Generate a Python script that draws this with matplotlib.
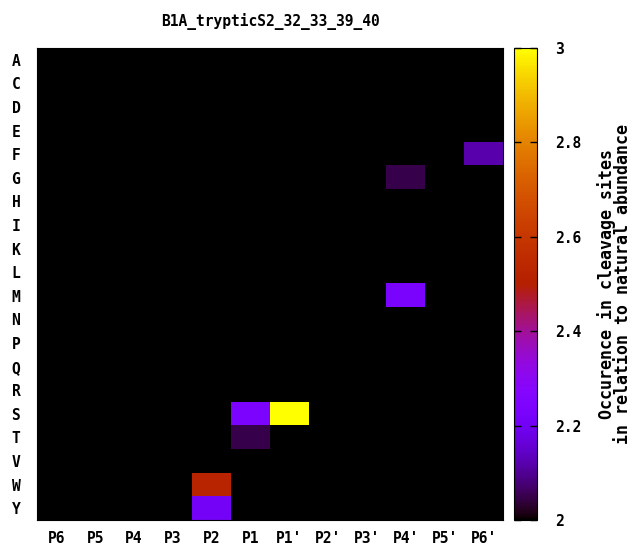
import numpy as np
import matplotlib.pyplot as plt

plt.rcParams['font.family'] = 'DejaVu Sans Mono'
plt.rcParams['font.weight'] = 'bold'

positions = ['P6', 'P5', 'P4', 'P3', 'P2', 'P1',
             "P1'", "P2'", "P3'", "P4'", "P5'", "P6'"]
residues = ['A', 'C', 'D', 'E', 'F', 'G', 'H', 'I', 'K', 'L',
            'M', 'N', 'P', 'Q', 'R', 'S', 'T', 'V', 'W', 'Y']

# cells above the baseline (residue, position, value); everything else sits at 2
hit_res = ['F', 'G', 'M', 'S', 'S', 'T', 'W', 'Y']
hit_pos = ["P6'", "P4'", "P4'", 'P1', "P1'", 'P1', 'P2', 'P2']
hit_val = [2.12, 2.05, 2.23, 2.24, 3.0, 2.05, 2.52, 2.21]
baseline = 2.0

Z = np.full((len(residues), len(positions)), baseline)
for r, p, v in zip(hit_res, hit_pos, hit_val):
    Z[residues.index(r), positions.index(p)] = v

fig = plt.figure(figsize=(6.33, 5.47), dpi=100)
ax = fig.add_axes([37/633, 27/547, 466/633, 472/547])
cax = fig.add_axes([514/633, 27/547, 23/633, 472/547])

im = ax.imshow(Z, cmap='gnuplot', vmin=2, vmax=3, aspect='auto',
               interpolation='nearest')
ax.set_xticks(np.arange(len(positions)))
ax.set_xticklabels(positions, fontsize=10.5, fontweight='bold')
ax.set_yticks(np.arange(len(residues)))
ax.set_yticklabels(residues, fontsize=10.5, fontweight='bold')
ax.tick_params(axis='x', length=0, pad=8)
ax.tick_params(axis='y', length=0, pad=12)
ax.set_title('B1A_trypticS2_32_33_39_40', fontsize=10.5, fontweight='bold',
             pad=16)

cb = fig.colorbar(im, cax=cax)
cb.set_ticks([2, 2.2, 2.4, 2.6, 2.8, 3])
cax.set_yticklabels(['2', '2.2', '2.4', '2.6', '2.8', '3'],
                    fontsize=10.5, fontweight='bold')
cax.yaxis.set_ticks_position('both')
cax.tick_params(axis='y', direction='in', length=5, width=1, color='black',
                pad=13, left=True, right=True)
cb.outline.set_edgecolor('black')
cb.set_label('Occurence in cleavage sites\nin relation to natural abundance',
             fontsize=12, fontweight='bold', labelpad=11, linespacing=0.9)

plt.savefig('out.png', dpi=100)
